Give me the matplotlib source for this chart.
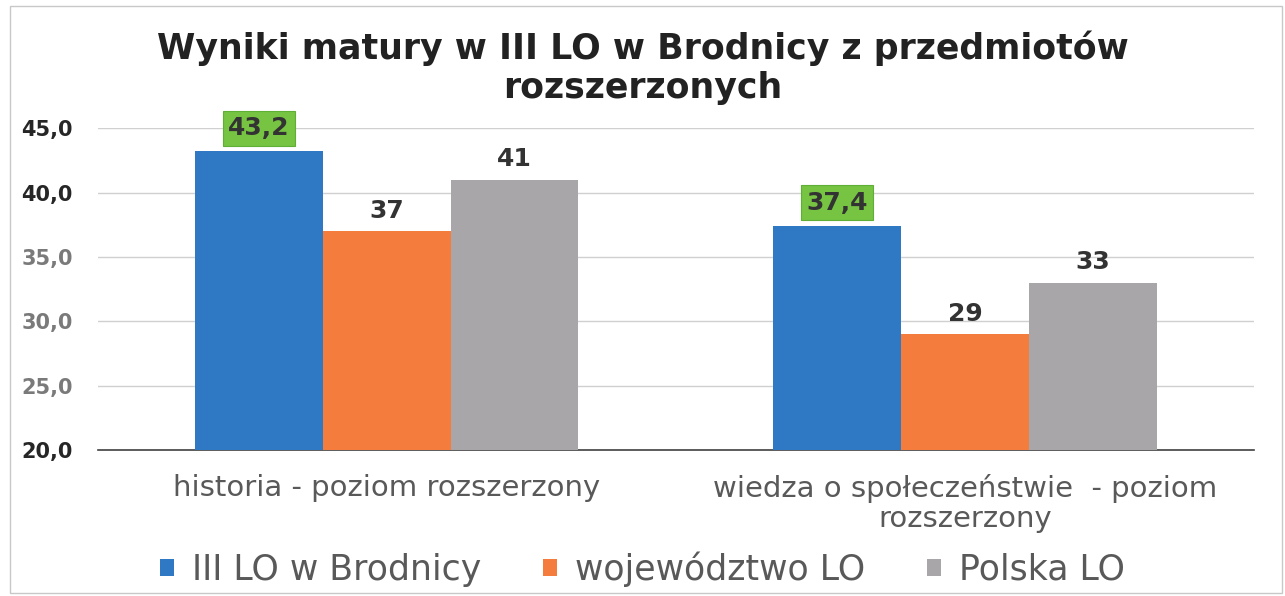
import matplotlib.pyplot as plt
import numpy as np
from matplotlib.patches import Rectangle

# Data
categories = ["historia - poziom rozszerzony",
              "wiedza o społeczeństwie  - poziom\nrozszerzony"]
series = ["III LO w Brodnicy", "województwo LO", "Polska LO"]
brodnica = [43.2, 37.4]
wojewodztwo = [37, 29]
polska = [41, 33]
value_labels = [["43,2", "37,4"], ["37", "29"], ["41", "33"]]
yticks = [20, 25, 30, 35, 40, 45]
ytick_colors = ["#262626", "#7a7a7a", "#7a7a7a", "#7a7a7a", "#262626", "#262626"]

colors = ["#2e78c4", "#f47c3c", "#a8a6a8"]

fig = plt.figure(figsize=(12.85, 5.96), dpi=100)
ax = fig.add_axes([0.076, 0.245, 0.900, 0.540])

x = np.arange(len(categories))
w = 0.221
values = [brodnica, wojewodztwo, polska]
for i, (vals, c) in enumerate(zip(values, colors)):
    pos = x + (i - 1) * w
    ax.bar(pos, vals, width=w, color=c, label=series[i], zorder=3)
    for p, v, lab in zip(pos, vals, value_labels[i]):
        bbox = None
        if i == 0:
            bbox = dict(boxstyle="square,pad=0.22", facecolor="#76c442",
                        edgecolor="#5fae35", linewidth=0.8)
        ax.annotate(lab, (p, v), xytext=(0, 8 if i == 0 else 6),
                    textcoords="offset points", ha="center", va="bottom",
                    fontsize=18, fontweight="bold", color="#333333",
                    fontfamily="DejaVu Sans", bbox=bbox, zorder=5)

ax.set_xlim(-0.5, 1.5)
ax.set_ylim(20, 45)
ax.set_yticks(yticks)
ax.set_yticklabels([f"{t:.1f}".replace(".", ",") for t in yticks],
                   fontsize=15, fontweight="bold", fontfamily="DejaVu Sans")
for lab, c in zip(ax.get_yticklabels(), ytick_colors):
    lab.set_color(c)
ax.set_xticks(x)
ax.set_xticklabels(categories, fontsize=21, color="#595959",
                   fontfamily="DejaVu Sans", linespacing=1.1)
ax.tick_params(axis="x", length=0, pad=17)
ax.tick_params(axis="y", length=0, pad=18)
ax.grid(axis="y", color="#d0d0d0", linewidth=1, zorder=0)
for s in ["top", "right", "left"]:
    ax.spines[s].set_visible(False)
ax.spines["bottom"].set_color("#404040")
ax.spines["bottom"].set_linewidth(1.2)

fig.suptitle("Wyniki matury w III LO w Brodnicy z przedmiotów\nrozszerzonych",
             y=0.948, fontsize=25, fontweight="bold", color="#222222",
             fontfamily="DejaVu Sans", linespacing=1.15)

leg = fig.legend(loc="center", bbox_to_anchor=(0.5, 0.045), ncol=3,
                 frameon=False, handlelength=0.4, handleheight=0.4,
                 columnspacing=1.8, handletextpad=0.5,
                 prop={"family": "DejaVu Sans", "size": 25})
for t in leg.get_texts():
    t.set_color("#595959")

fig.patches.append(Rectangle((0.008, 0.005), 0.99, 0.985, transform=fig.transFigure,
                             fill=False, edgecolor="#c8c8c8", linewidth=1))

fig.savefig("out.png", dpi=100)
